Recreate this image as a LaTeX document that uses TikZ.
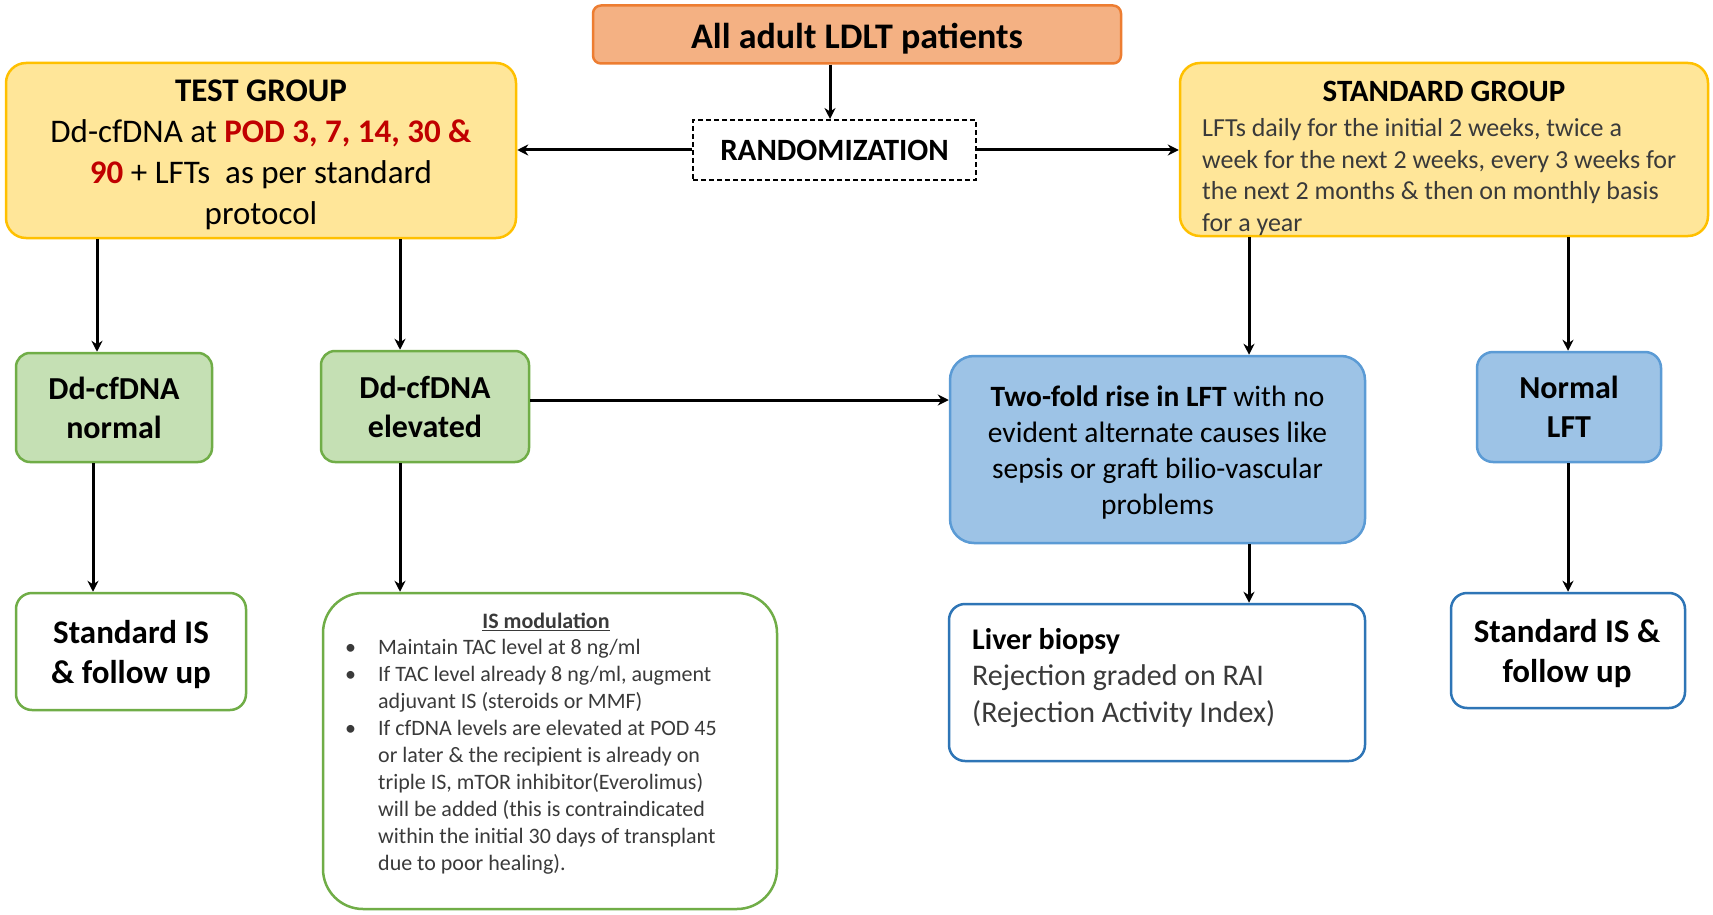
\documentclass[tikz,border=0pt]{standalone}
\usepackage{fontspec}
\setmainfont{Carlito}
\usetikzlibrary{arrows.meta}
\definecolor{orfill}{HTML}{F4B183}
\definecolor{ordraw}{HTML}{ED7D31}
\definecolor{yefill}{HTML}{FFE699}
\definecolor{yedraw}{HTML}{FFC000}
\definecolor{grfill}{HTML}{C5E0B4}
\definecolor{grdraw}{HTML}{70AD47}
\definecolor{blfill}{HTML}{9DC3E6}
\definecolor{bldraw}{HTML}{5B9BD5}
\definecolor{bldark}{HTML}{2E75B6}
\definecolor{podred}{HTML}{C00000}
\definecolor{txtgrey}{HTML}{3A3A3A}
\tikzset{
  box/.style={draw, line width=2.5pt, inner sep=0pt, align=center},
  orbox/.style={box, fill=orfill, draw=ordraw, rounded corners=8pt},
  yebox/.style={box, fill=yefill, draw=yedraw, rounded corners=20pt},
  grbox/.style={box, fill=grfill, draw=grdraw, rounded corners=14pt},
  blbox/.style={box, fill=blfill, draw=bldraw, rounded corners=24pt},
  gwbox/.style={box, fill=white, draw=grdraw, rounded corners=16pt},
  bwbox/.style={box, fill=white, draw=bldark, rounded corners=16pt},
  dashbox/.style={box, fill=white, draw=black, line width=2pt, dash pattern=on 5pt off 3pt},
  lbl/.style={inner sep=0pt, align=center},
  arr/.style={line width=3pt, -{Stealth[length=11pt,width=11pt]}},
  fbig/.style={font=\fontsize{36}{43}\selectfont\bfseries},
  fhead/.style={font=\fontsize{33}{41}\selectfont},
  fstd/.style={font=\fontsize{26}{31.7}\selectfont},
  fmid/.style={font=\fontsize{29.5}{36}\selectfont},
  fsmall/.style={font=\fontsize{22}{27}\selectfont},
  fbold/.style={font=\fontsize{32}{39}\selectfont\bfseries},
}
\begin{document}
\begin{tikzpicture}[x=1pt,y=-1pt]
\useasboundingbox[fill=white] (0,0) rectangle (1713,915);

% boxes
\node[orbox, minimum width=528pt, minimum height=58pt] (top) at (857,34.5) {};
\node[lbl, fbig] (toptxt) at (857,39) {All adult LDLT patients};
\node[yebox, minimum width=510pt, minimum height=175pt] (test) at (261,150.5) {};
\node[lbl, fhead] (testtxt) at (261,155)
  {\textbf{TEST GROUP}\\
   Dd-cfDNA at \textcolor{podred}{\textbf{POD 3, 7, 14, 30 \&}}\\
   \textcolor{podred}{\textbf{90}} + LFTs\ \ as per standard\\
   protocol};
\node[dashbox, minimum width=283pt, minimum height=60pt, font=\fontsize{31}{37}\selectfont\bfseries] (rand) at (834.5,150) {RANDOMIZATION};
\node[yebox, minimum width=528pt, minimum height=173pt] (std) at (1444,149.5) {};
\node[lbl, font=\fontsize{31}{37}\selectfont\bfseries] (stdhead) at (1444,91) {STANDARD GROUP};
\node[fstd, align=left, anchor=west, inner sep=0pt, text=txtgrey] (stdtxt) at (1202,177)
  {LFTs daily for the initial 2 weeks, twice a\\
   week for the next 2 weeks, every 3 weeks for\\
   the next 2 months \& then on monthly basis\\
   for a year};

\node[grbox, minimum width=196pt, minimum height=109pt, fbold] (normal) at (114,407.5) {Dd-cfDNA\\normal};
\node[grbox, minimum width=208pt, minimum height=111pt, fbold] (elev) at (425,406.5) {Dd-cfDNA\\elevated};
\node[blbox, minimum width=415pt, minimum height=187pt] (two) at (1157.5,449.5) {};
\node[lbl, fmid] (twotxt) at (1157.5,453)
  {\textbf{Two-fold rise in LFT} with no\\
   evident alternate causes like\\
   sepsis or graft bilio-vascular\\
   problems};
\node[blbox, rounded corners=16pt, minimum width=184pt, minimum height=110pt, fbold] (nlft) at (1569,407) {Normal\\LFT};

\node[gwbox, minimum width=230pt, minimum height=117pt] (sisl) at (131,651.5) {};
\node[lbl, font=\fontsize{33}{40}\selectfont\bfseries] (sisltxt) at (131,655) {Standard IS\\\& follow up};
\node[gwbox, rounded corners=40pt, minimum width=454pt, minimum height=316pt] (ismod) at (550,751) {};
\node[lbl, font=\fontsize{22}{27}\selectfont\bfseries, text=txtgrey] (ishead) at (546,622) {\underline{IS modulation}};
\node[fsmall, align=left, anchor=north west, inner sep=0pt, text=txtgrey] (istxt) at (345,639)
  {\makebox[33pt][l]{\textbullet}Maintain TAC level at 8 ng/ml\\
   \makebox[33pt][l]{\textbullet}If TAC level already 8 ng/ml, augment\\
   \hspace*{33pt}adjuvant IS (steroids or MMF)\\
   \makebox[33pt][l]{\textbullet}If cfDNA levels are elevated at POD 45\\
   \hspace*{33pt}or later \& the recipient is already on\\
   \hspace*{33pt}triple IS, mTOR inhibitor(Everolimus)\\
   \hspace*{33pt}will be added (this is contraindicated\\
   \hspace*{33pt}within the initial 30 days of transplant\\
   \hspace*{33pt}due to poor healing).};
\node[bwbox, minimum width=416pt, minimum height=157pt] (liver) at (1157,682.5) {};
\node[font=\fontsize{30}{36.6}\selectfont, align=left, anchor=west, inner sep=0pt, text=txtgrey] (livtxt) at (972,678)
  {\textcolor{black}{\textbf{Liver biopsy}}\\
   Rejection graded on RAI\\
   (Rejection Activity Index)};
\node[bwbox, minimum width=234pt, minimum height=115pt] (sisr) at (1568,650.5) {};
\node[lbl, font=\fontsize{33}{40}\selectfont\bfseries] (sisrtxt) at (1567,654) {Standard IS \&\\follow up};

% arrow guide coordinates
\coordinate (xa) at (830,0);
\coordinate (x1) at (97,0);
\coordinate (x2) at (400,0);
\coordinate (x3) at (1249,0);
\coordinate (x4) at (1568,0);
\coordinate (x5) at (93,0);
\coordinate (ye) at (0,400);

% connectors
\draw[arr] (top.south -| xa) -- (rand.north -| xa);
\draw[arr] (rand.west) -- (rand.west -| test.east);
\draw[arr] (rand.east) -- (rand.east -| std.west);
\draw[arr] (test.south -| x1) -- (normal.north -| x1);
\draw[arr] (test.south -| x2) -- (elev.north -| x2);
\draw[arr] (std.south -| x3) -- (two.north -| x3);
\draw[arr] (std.south -| x4) -- (nlft.north -| x4);
\draw[arr] (normal.south -| x5) -- (sisl.north -| x5);
\draw[arr] (elev.south -| x2) -- (ismod.north -| x2);
\draw[arr] (elev.east |- ye) -- (two.west |- ye);
\draw[arr] (two.south -| x3) -- (liver.north -| x3);
\draw[arr] (nlft.south -| x4) -- (sisr.north -| x4);
\end{tikzpicture}
\end{document}
